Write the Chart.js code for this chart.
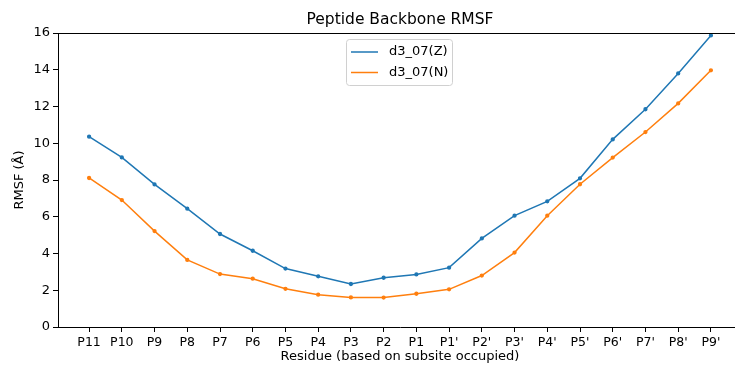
<!DOCTYPE html>
<html>
<head>
<meta charset="utf-8">
<title>Peptide Backbone RMSF</title>
<script src="https://cdn.jsdelivr.net/npm/chart.js@4/dist/chart.umd.min.js"></script>
<style>
  html, body { margin: 0; padding: 0; background: #fff; overflow: hidden; }
  #wrap { width: 735px; height: 365px; overflow: hidden; }
  canvas { display: block; }
</style>
</head>
<body>
<div id="wrap"><canvas id="c" width="750" height="365"></canvas></div>
<script>
// Subsite residues along the peptide
const residues = ["P11", "P10", "P9", "P8", "P7", "P6", "P5", "P4", "P3", "P2", "P1",
                  "P1'", "P2'", "P3'", "P4'", "P5'", "P6'", "P7'", "P8'", "P9'"];

// Backbone RMSF (Å) per residue
const rmsfZ = [10.36, 9.23, 7.76, 6.44, 5.06, 4.15, 3.18, 2.76, 2.34, 2.68, 2.86,
               3.23, 4.82, 6.06, 6.84, 8.09, 10.21, 11.85, 13.80, 15.87];
const rmsfN = [8.11, 6.91, 5.22, 3.65, 2.88, 2.63, 2.08, 1.76, 1.61, 1.60, 1.81,
               2.05, 2.80, 4.05, 6.06, 7.77, 9.22, 10.61, 12.17, 13.97];

const seriesNames = ["d3_07(Z)", "d3_07(N)"];
const yTicks = [0, 2, 4, 6, 8, 10, 12, 14, 16];

const FONT = "'DejaVu Sans', sans-serif";
const BLUE = "#1f77b4";
const ORANGE = "#ff7f0e";

const toPoints = vals => vals.map((v, i) => ({ x: i, y: v }));

// Title, axis titles, frame and legend drawn over the plot
const decorations = {
  id: "decorations",
  afterDraw(chart) {
    const ctx = chart.ctx;
    const a = chart.chartArea;
    ctx.save();
    ctx.fillStyle = "#000";
    ctx.textAlign = "center";
    ctx.textBaseline = "middle";
    ctx.font = "15.5px " + FONT;
    ctx.fillText("Peptide Backbone RMSF", (a.left + a.right) / 2, 20);

    ctx.font = "13px " + FONT;
    ctx.fillText("Residue (based on subsite occupied)", (a.left + a.right) / 2, 357);

    ctx.save();
    ctx.translate(20, (a.top + a.bottom) / 2);
    ctx.rotate(-Math.PI / 2);
    ctx.fillText("RMSF (Å)", 0, 0);
    ctx.restore();

    // top and right spines
    ctx.strokeStyle = "#000";
    ctx.lineWidth = 1;
    ctx.beginPath();
    ctx.moveTo(a.left, a.top + 0.5);
    ctx.lineTo(a.right, a.top + 0.5);
    ctx.moveTo(a.right - 0.5, a.top);
    ctx.lineTo(a.right - 0.5, a.bottom);
    ctx.stroke();

    // legend box
    const bx = 346.5, by = 39.5, bw = 106, bh = 46;
    ctx.fillStyle = "rgba(255,255,255,0.8)";
    ctx.strokeStyle = "#d0d0d0";
    ctx.beginPath();
    ctx.roundRect(bx, by, bw, bh, 3);
    ctx.fill();
    ctx.stroke();
    ctx.textAlign = "left";
    ctx.font = "13px " + FONT;
    chart.data.datasets.forEach((ds, i) => {
      const ly = 52 + i * 20.5;
      ctx.strokeStyle = ds.borderColor;
      ctx.lineWidth = 1.5;
      ctx.beginPath();
      ctx.moveTo(351, ly);
      ctx.lineTo(378, ly);
      ctx.stroke();
      ctx.fillStyle = "#000";
      ctx.fillText(ds.label, 389, ly);
    });
    ctx.restore();
  }
};

new Chart(document.getElementById("c"), {
  type: "line",
  data: {
    datasets: [
      { label: seriesNames[0], data: toPoints(rmsfZ), borderColor: BLUE, backgroundColor: BLUE,
        borderWidth: 1.5, pointRadius: 1.4, pointHoverRadius: 1.4, tension: 0, clip: false },
      { label: seriesNames[1], data: toPoints(rmsfN), borderColor: ORANGE, backgroundColor: ORANGE,
        borderWidth: 1.5, pointRadius: 1.4, pointHoverRadius: 1.4, tension: 0, clip: false }
    ]
  },
  options: {
    responsive: false,
    animation: false,
    devicePixelRatio: 1,
    layout: { padding: { top: 33, right: 8, left: 0, bottom: 0 } },
    plugins: { legend: { display: false }, title: { display: false }, tooltip: { enabled: false } },
    scales: {
      x: {
        type: "linear",
        min: -0.95,
        max: residues.length - 1 + 0.95,
        afterBuildTicks(scale) { scale.ticks = residues.map((_, i) => ({ value: i })); },
        afterFit(scale) { scale.height = 38; },
        grid: { drawOnChartArea: false, drawTicks: true, tickLength: 5, color: "#000", tickWidth: 1 },
        border: { display: true, color: "#000", width: 1 },
        ticks: {
          autoSkip: false, maxRotation: 0, padding: 3, color: "#000",
          font: { family: FONT, size: 12.5 },
          callback: v => residues[v]
        }
      },
      y: {
        type: "linear",
        min: 0,
        max: 16,
        afterBuildTicks(scale) { scale.ticks = yTicks.map(v => ({ value: v })); },
        afterFit(scale) { scale.width = 58; },
        grid: { drawOnChartArea: false, drawTicks: true, tickLength: 5, color: "#000", tickWidth: 1 },
        border: { display: true, color: "#000", width: 1 },
        ticks: { padding: 3, color: "#000", font: { family: FONT, size: 13 } }
      }
    }
  },
  plugins: [decorations]
});
</script>
</body>
</html>
